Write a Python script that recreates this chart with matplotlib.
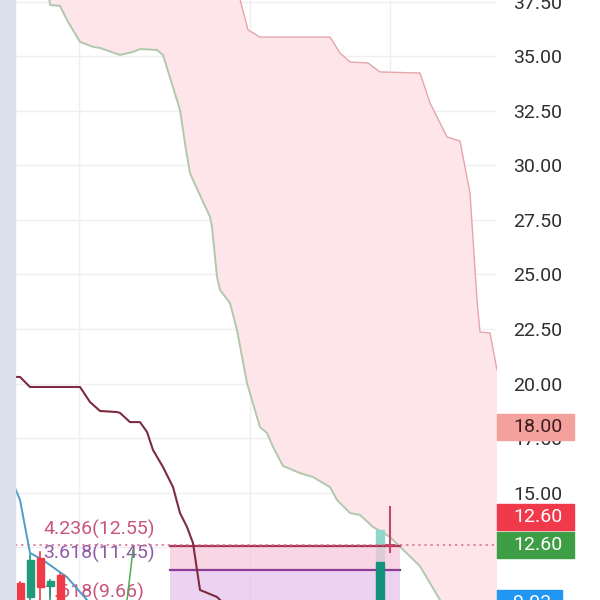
import numpy as np
import matplotlib
matplotlib.use("Agg")
import matplotlib.pyplot as plt
from matplotlib.patches import Rectangle
from matplotlib.transforms import blended_transform_factory

plt.rcParams["font.family"] = ["Roboto", "DejaVu Sans"]

# ichimoku cloud edges (bar index, price)
span_a_x = [2.9, 3.0, 4.0, 4.7, 6.0, 7.3, 8.0, 10.0, 11.3, 12.0, 13.7, 14.3, 16.0, 16.6,
            17.0, 17.3, 19.0, 19.2, 19.7, 20.0, 21.0, 21.7, 22.7, 23.7, 24.0, 24.7,
            25.3, 26.3, 28.0, 29.3, 31.0, 31.7, 33.0, 34.0, 35.3, 37.0, 40.0, 42.0, 42.4]
span_a_y = [37.8, 37.36, 37.32, 36.67, 35.67, 35.44, 35.39, 35.07, 35.21, 35.34, 35.30,
            35.07, 32.55, 30.71, 29.66, 29.33, 27.64, 27.18, 24.89, 24.29, 23.69, 22.45,
            20.02, 18.46, 18.00, 17.73, 17.09, 16.22, 15.89, 15.71, 15.25, 14.66, 14.06,
            13.97, 13.42, 12.96, 11.62, 10.07, 9.6]
span_b_x = [21.9, 22.8, 24.0, 31.0, 32.0, 33.0, 34.8, 36.0, 40.0, 41.0, 42.7, 44.0,
            45.0, 45.7, 46.0, 47.0, 47.7]
span_b_y = [37.8, 36.22, 35.89, 35.89, 35.16, 34.75, 34.70, 34.29, 34.24, 32.87, 31.31,
            31.12, 28.74, 23.83, 22.36, 22.32, 20.62]

# base line (maroon)
base_x = [-0.5, 0.0, 1.0, 6.0, 7.0, 8.0, 9.7, 10.0, 11.0, 12.0, 12.7, 13.3, 14.3, 15.3,
          16.0, 16.7, 17.3, 18.0, 19.7, 20.2]
base_y = [20.30, 20.30, 19.84, 19.84, 19.15, 18.74, 18.69, 18.65, 18.23, 18.23, 17.78,
          16.95, 16.17, 15.25, 14.06, 13.42, 12.68, 10.53, 10.21, 9.98]

# conversion line (blue)
conv_x = [-0.5, 0.0, 0.7, 1.0, 2.3, 4.7, 6.7, 7.0]
conv_y = [15.21, 14.66, 12.96, 12.23, 11.90, 11.12, 10.07, 9.8]

# lagging span (green)
lag_x = [10.56, 11.3]
lag_y = [9.52, 12.36]

# candles
candle_x = [0, 1, 2, 3, 4]
candle_open = [10.85, 10.21, 11.99, 10.71, 11.22]
candle_close = [9.40, 11.90, 10.66, 10.94, 9.50]
candle_high = [10.90, 12.13, 12.27, 10.98, 11.25]
candle_low = [9.00, 9.60, 9.80, 9.70, 9.20]

last_green_x = 36
last_green_body = [9.2, 11.81, 13.28]  # bottom, split, top
last_x = 37
last_open, last_close, last_high, last_low = 12.6, 12.6, 14.33, 12.27

# fibonacci extension
fib_ratios = ["4.236", "3.618", "1.618"]
fib_prices = [12.55, 11.45, 9.66]
fib_start, fib_end = 15, 38

# price tags on the axis
tag_texts = ["18.00", "12.60", "12.60", "9.93"]
tag_levels = [18.0, 13.88, 12.6, 9.93]
tag_colors = ["#f4a19d", "#f0394b", "#3e9e45", "#2196f3"]
tag_text_colors = ["#3a1c1c", "white", "white", "white"]
tag_widths = [77, 77, 77, 65]

grid_x = [5.9, 23, 37]
y_ticks = np.arange(12.5, 38, 2.5)

fig = plt.figure(figsize=(6, 6), dpi=100)
fig.patches.append(Rectangle((0, 0), 15 / 600, 1, transform=fig.transFigure,
                             color="#dce0ec", zorder=0))
ax = fig.add_axes([15 / 600, 0, 482 / 600, 1])
ax.set_xlim(-0.5, 47.7)
ax.set_ylim(10.07, 37.59)

for s in ax.spines.values():
    s.set_visible(False)
ax.set_xticks(grid_x)
ax.set_xticklabels([])
ax.yaxis.tick_right()
ax.set_yticks(y_ticks)
# 12.50 sits under the price tags, so it has no label
ax.set_yticklabels(["" if v < 13 else f"{v:.2f}" for v in y_ticks])
ax.tick_params(axis="both", length=0)
ax.tick_params(axis="y", pad=11.5, labelsize=14, labelcolor="#2f2f2f")
ax.grid(True, color="#efeff3", lw=1, zorder=0)
ax.set_axisbelow(True)

# cloud
xs = np.linspace(-0.5, 47.7, 1500)
a = np.interp(xs, span_a_x, span_a_y, left=37.9, right=9.5)
b = np.interp(xs, span_b_x, span_b_y, left=37.9, right=20.0)
ax.fill_between(xs, a, b, where=b > a, color="#fde5ea", lw=0, zorder=1)
ax.plot(span_a_x, span_a_y, color="#b0c9ad", lw=1.4, zorder=2)
ax.plot(span_b_x, span_b_y, color="#e6a5aa", lw=1.0, zorder=2)

# last green candle: light top part sits under the fib zone, dark part above it
w = 0.8
ax.add_patch(Rectangle((last_green_x - w / 2, last_green_body[1]), w,
                       last_green_body[2] - last_green_body[1], color="#92d6c9", zorder=3))
ax.add_patch(Rectangle((last_green_x - w / 2, last_green_body[0]), w,
                       last_green_body[1] - last_green_body[0], color="#13937b", zorder=5.5))

# fib zones
ax.add_patch(Rectangle((fib_start, fib_prices[1]), fib_end - fib_start,
                       fib_prices[0] - fib_prices[1], color="#f7c9da", alpha=0.75, lw=0, zorder=4))
ax.add_patch(Rectangle((fib_start, fib_prices[2]), fib_end - fib_start,
                       fib_prices[1] - fib_prices[2], color="#e6c8ee", alpha=0.8, lw=0, zorder=4))
ax.plot([fib_start, fib_end], [fib_prices[0]] * 2, color="#a73356", lw=1.6, zorder=5)
ax.plot([fib_start, fib_end], [fib_prices[1]] * 2, color="#8e3c96", lw=1.6, zorder=5)
ax.plot([fib_start, fib_end], [fib_prices[2]] * 2, color="#c44a6c", lw=1.6, zorder=5)
fib_text_colors = ["#c9547c", "#8f5aa6", "#c9547c"]
for r, p, c in zip(fib_ratios, fib_prices, fib_text_colors):
    ax.text(2.3, p + 0.78, f"{r}({p:.2f})", color=c, fontsize=14, va="center",
            ha="left", zorder=5)

# current price line
ax.axhline(last_close, color="#d86a88", lw=1.1, ls=(0, (1.5, 2.5)), zorder=5)

# lines
ax.plot(base_x, base_y, color="#7c2c40", lw=1.5, zorder=6)
ax.plot(conv_x, conv_y, color="#4f9bc9", lw=1.4, zorder=6)
ax.plot(lag_x, lag_y, color="#4caf50", lw=1.1, zorder=6)

# candles
for x, o, c, h, l in zip(candle_x, candle_open, candle_close, candle_high, candle_low):
    col = "#1d9b7b" if c >= o else "#ef3a47"
    ax.plot([x, x], [l, h], color=col, lw=1.2, zorder=7)
    ax.add_patch(Rectangle((x - 0.35, min(o, c)), 0.7, abs(c - o), color=col, zorder=7))

ax.plot([last_x, last_x], [last_low, last_high], color="#c4476a", lw=1.5, zorder=7)
ax.plot([last_x - 0.4, last_x + 0.4], [last_open, last_close], color="#c4476a", lw=1.5, zorder=7)

# axis price tags
tr = blended_transform_factory(ax.transAxes, ax.transData)
for t, lvl, bc, tc, wd in zip(tag_texts, tag_levels, tag_colors, tag_text_colors, tag_widths):
    ax.add_patch(Rectangle((1.0, lvl - 0.6), wd / 482, 1.2, transform=tr, color=bc,
                           clip_on=False, zorder=10))
    ax.text(1 + 16 / 482, lvl, t, transform=tr, color=tc, fontsize=14, va="center",
            ha="left", clip_on=False, zorder=11)

fig.savefig("out.png", dpi=100)
